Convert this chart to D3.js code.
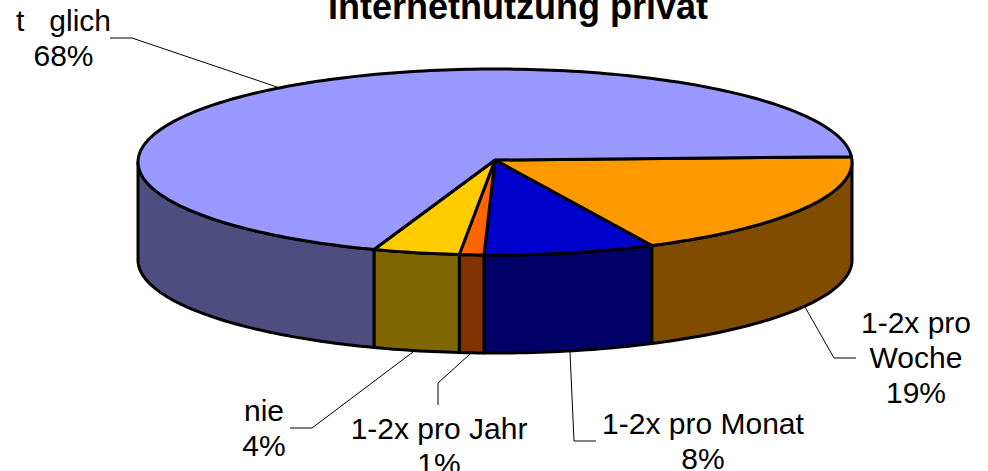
<!DOCTYPE html>
<html>
<head>
<meta charset="utf-8">
<script src="https://cdnjs.cloudflare.com/ajax/libs/d3/7.8.5/d3.min.js"></script>
<style>
html, body { margin: 0; padding: 0; background: #fff; overflow: hidden; }
svg { display: block; }
text { font-family: "Liberation Sans", Arial, sans-serif; fill: #000; white-space: pre; }
</style>
</head>
<body>
<div id="chart"></div>
<script>
// slices clockwise from the right hand edge of the pie
const categories = ["1-2x pro Woche", "1-2x pro Monat", "1-2x pro Jahr", "nie", "t\u00a0\u00a0\u00a0glich"];
const shares = [18.6, 7.7, 1.1, 3.9, 68.4];
const topColors = ["#FF9900", "#0000CC", "#FF6600", "#FFCC00", "#9999FF"];
const wallColors = ["#804D00", "#000066", "#803300", "#806600", "#4D4D80"];

// label layout, same order as categories
const labelLines = [["1-2x pro", "Woche"], ["1-2x pro Monat"], ["1-2x pro Jahr"], ["nie"], ["t\u00a0\u00a0\u00a0glich"]];
const labelX = [916, 703, 439, 264, 63.5];
const labelY = [333, 434, 439, 421, 31];
const leaders = [
    [[805, 307], [834, 358], [856, 358]],
    [[570, 352], [574, 441], [596, 441]],
    [[470, 354], [438, 383], [438, 405]],
    [[413, 352], [312, 428], [290, 428]],
    [[277, 87], [132, 38], [110, 38]]
];

const width = 988, height = 471;
const cx = 495, cy = 162, rx = 357, ry = 93, depth = 98;
const apexY = 160;

const svg = d3.select("#chart").append("svg")
    .attr("width", width)
    .attr("height", height);

// tilted pie: unit circle squeezed to an ellipse
const px = d3.scaleLinear().domain([-1, 1]).range([cx - rx, cx + rx]);
const py = d3.scaleLinear().domain([-1, 1]).range([cy - ry, cy + ry]);
const line = d3.line();

function rim(a0, a1, drop) {
    const n = Math.max(2, Math.ceil(Math.abs(a1 - a0) / 0.02));
    return d3.range(n + 1).map(i => {
        const a = a0 + (a1 - a0) * i / n;
        return [px(Math.cos(a)), py(Math.sin(a)) + drop];
    });
}

// pie angles, moved so 0 is on the right and the first slice starts a bit above it
const offset = -3.2 * Math.PI / 180;
const slices = d3.pie().sort(null)(shares).map(d => ({
    a0: d.startAngle + offset,
    a1: d.endAngle + offset,
    i: d.index
}));

// walls, only the front half of the rim shows
slices.forEach(s => {
    const a0 = Math.max(s.a0, 0), a1 = Math.min(s.a1, Math.PI);
    if (a1 <= a0) return;
    svg.append("path")
        .attr("d", line(rim(a0, a1, 0).concat(rim(a1, a0, depth))) + "Z")
        .attr("fill", wallColors[s.i])
        .attr("stroke", "#000")
        .attr("stroke-width", 3)
        .attr("stroke-linejoin", "round");
});

// top faces
slices.forEach(s => {
    svg.append("path")
        .attr("d", line([[px(0), apexY]].concat(rim(s.a0, s.a1, 0))) + "Z")
        .attr("fill", topColors[s.i])
        .attr("stroke", "#000")
        .attr("stroke-width", 3)
        .attr("stroke-linejoin", "round");
});

// leader lines
leaders.forEach(l => {
    svg.append("path")
        .attr("d", line(l))
        .attr("fill", "none")
        .attr("stroke", "#000")
        .attr("stroke-width", 1);
});

// labels
categories.forEach((c, i) => {
    const rows = labelLines[i].concat([d3.format(".0f")(Math.floor(shares[i] + 0.5)) + "%"]);
    const t = svg.append("text")
        .attr("text-anchor", "middle")
        .attr("font-size", 30);
    rows.forEach((r, k) => {
        t.append("tspan")
            .attr("x", labelX[i])
            .attr("y", labelY[i] + k * 35)
            .text(r);
    });
});

svg.append("text")
    .attr("x", 518)
    .attr("y", 19)
    .attr("text-anchor", "middle")
    .attr("font-size", 36)
    .attr("font-weight", "bold")
    .text("Internetnutzung privat");
</script>
</body>
</html>
